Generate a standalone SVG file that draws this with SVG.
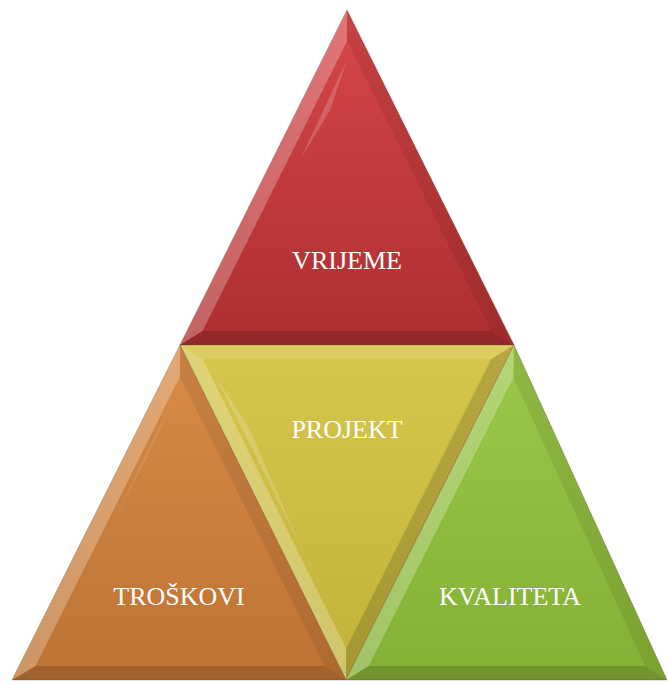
<svg xmlns="http://www.w3.org/2000/svg" width="668" height="684" viewBox="0 0 668 684">
<defs>
<linearGradient id="gRed" x1="0" y1="0" x2="0" y2="1"><stop offset="0" stop-color="#d8484a"/><stop offset="0.5" stop-color="#c23a3c"/><stop offset="1" stop-color="#ad2f31"/></linearGradient>
<linearGradient id="gOr" x1="0" y1="0" x2="0" y2="1"><stop offset="0" stop-color="#d98c48"/><stop offset="1" stop-color="#bd7334"/></linearGradient>
<linearGradient id="gYe" x1="0" y1="0" x2="0" y2="1"><stop offset="0" stop-color="#d6c64c"/><stop offset="1" stop-color="#c2b23a"/></linearGradient>
<linearGradient id="gGr" x1="0" y1="0" x2="0" y2="1"><stop offset="0" stop-color="#9bc84a"/><stop offset="1" stop-color="#84b035"/></linearGradient>
</defs>
<style>
.edge{stroke:#6a4a2a;stroke-opacity:0.35;stroke-width:1}
.lt{fill:#ffffff;fill-opacity:0.25}
.lt2{fill:#ffffff;fill-opacity:0.12}
.dk{fill:#000000;fill-opacity:0.15}
.dk2{fill:#000000;fill-opacity:0.08}
.lbl{font-family:"Liberation Serif","Times New Roman",serif;font-size:26px;fill:#ffffff;text-anchor:middle}
</style>
<rect width="668" height="684" fill="#ffffff"/>
<g id="vrijeme">
<polygon points="347,10 180,345 514,345" fill="url(#gRed)" class="edge"/>
<polygon class="lt" points="347,10 180,345 202.6,331 347,41.4"/>
<polygon class="dk2" points="347,10 514,345 491.4,331 347,41.4"/>
<polygon class="dk" points="180,345 514,345 491.4,331 202.6,331"/>
<polygon points="347,60 300,160 330,110" fill="#ffffff" fill-opacity="0.18"/>
<text class="lbl" x="347" y="269">VRIJEME</text>
</g>
<g id="projekt">
<polygon points="180,345 514,345 346,680" fill="url(#gYe)" class="edge"/>
<polygon class="lt2" points="180,345 514,345 491.3,359 202.6,359"/>
<polygon class="lt" points="180,345 346,680 346.1,648.6 202.6,359"/>
<polygon class="dk" points="514,345 346,680 346.1,648.6 491.3,359"/>
<polygon points="215,375 300,545 250,430" fill="#ffffff" fill-opacity="0.18"/>
<text class="lbl" x="347" y="438">PROJEKT</text>
</g>
<g id="troskovi">
<polygon points="180,345 12,680 346,680" fill="url(#gOr)" class="edge"/>
<polygon class="lt" points="180,345 12,680 35.6,666 180,376.4"/>
<polygon class="dk2" points="180,345 346,680 324.4,666 180,376.4"/>
<polygon class="dk" points="12,680 346,680 324.4,666 35.6,666"/>
<polygon points="175,395 110,530 150,450" fill="#ffffff" fill-opacity="0.18"/>
<text class="lbl" x="179" y="605">TROŠKOVI</text>
</g>
<g id="kvaliteta">
<polygon points="514,345 346,680 667,680" fill="url(#gGr)" class="edge"/>
<polygon class="lt" points="514,345 346,680 368.7,666 513.4,377.4"/>
<polygon class="dk2" points="514,345 667,680 645.2,666 513.4,377.4"/>
<polygon class="dk" points="346,680 667,680 645.2,666 368.7,666"/>
<polygon points="508,395 440,530 480,450" fill="#ffffff" fill-opacity="0.2"/>
<text class="lbl" x="510" y="605">KVALITETA</text>
</g>
</svg>
